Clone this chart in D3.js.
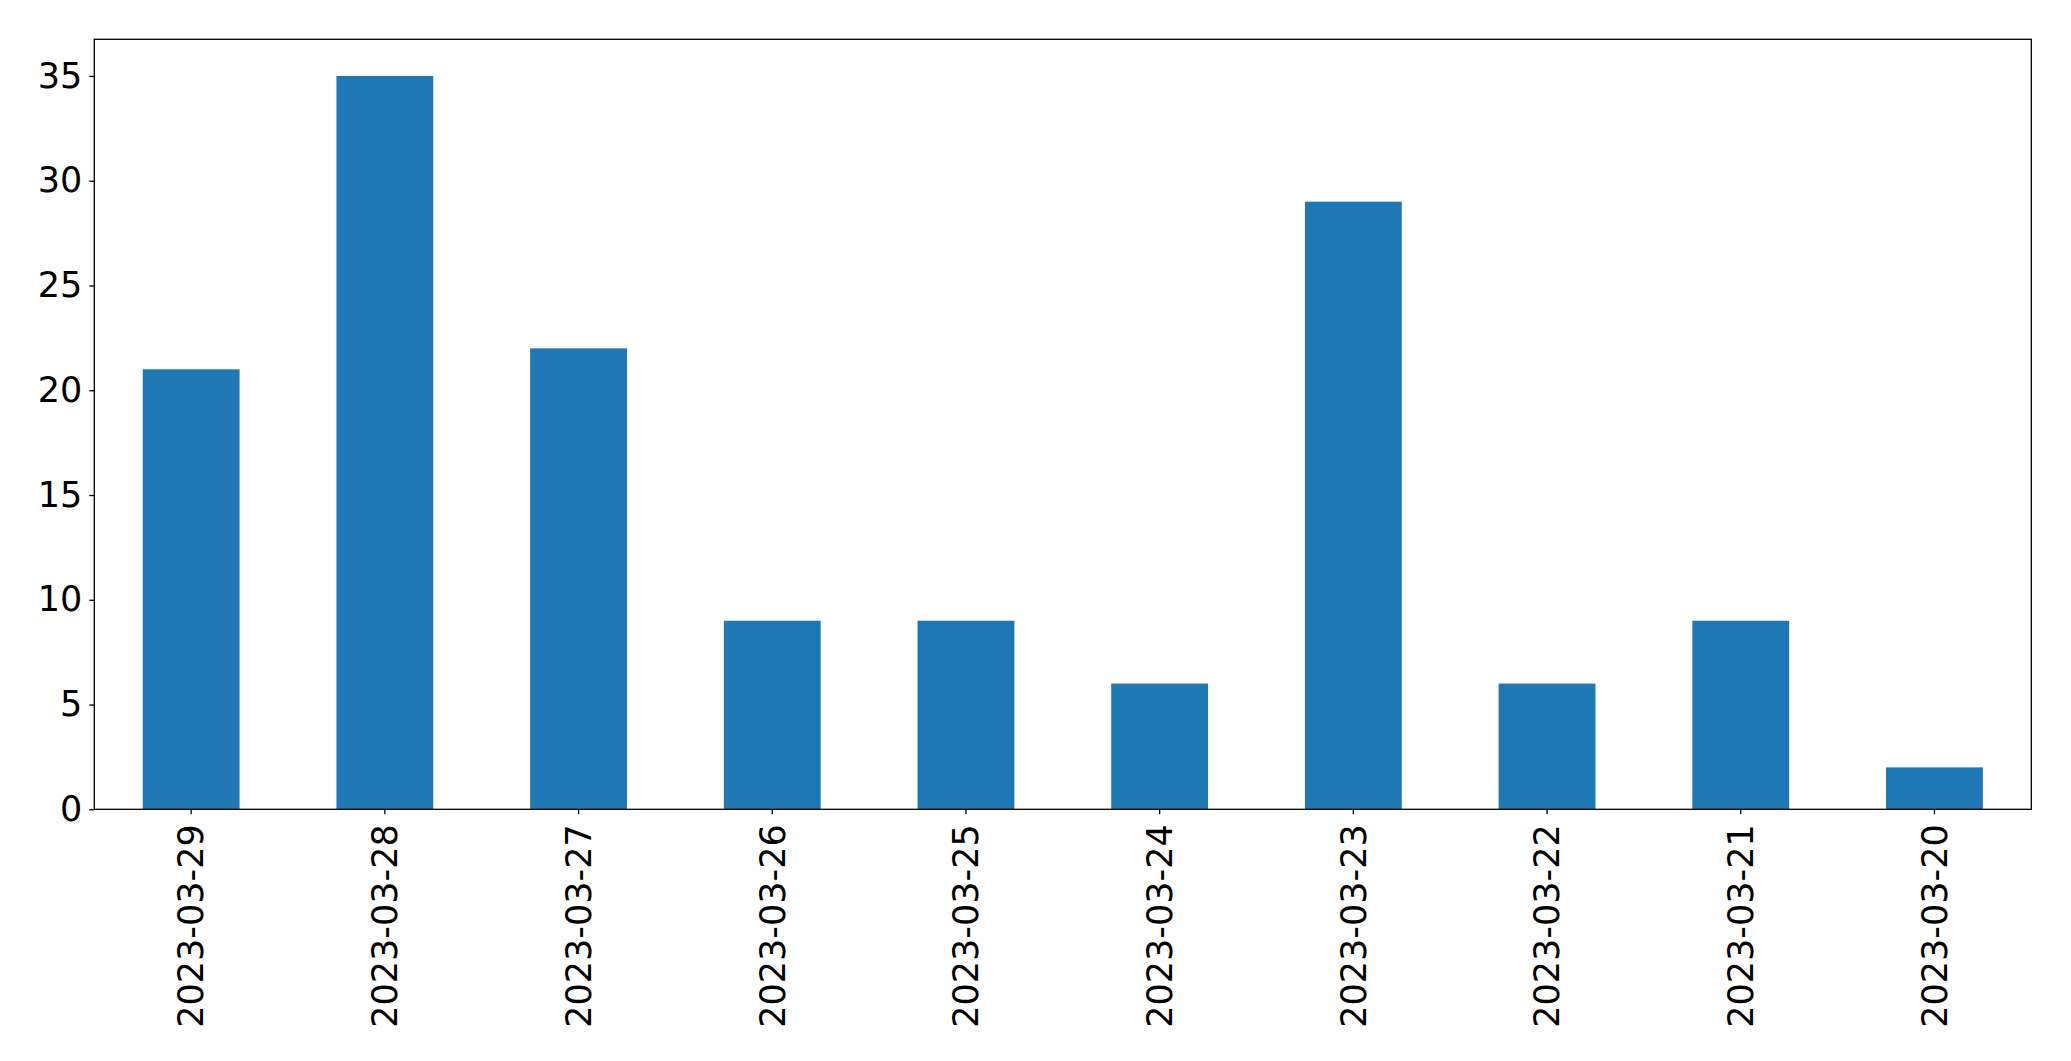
<!DOCTYPE html>
<html><head><meta charset="utf-8">
<script src="https://cdn.jsdelivr.net/npm/d3@7"></script>
<style>body{margin:0;background:#fff}svg{display:block}</style>
</head><body>
<script>
const categories = ["2023-03-29","2023-03-28","2023-03-27","2023-03-26","2023-03-25","2023-03-24","2023-03-23","2023-03-22","2023-03-21","2023-03-20"];
const values = [21,35,22,9,9,6,29,6,9,2];
const yTicks = [0,5,10,15,20,25,30,35];

const W = 2071, H = 1061;
const m = {left:94.3, right:2071-2031.3, top:39.3, bottom:1061-809.3};
const svg = d3.select("body").append("svg").attr("width",W).attr("height",H);
const x = d3.scaleBand().domain(categories).range([m.left, W-m.right]).paddingInner(0.5).paddingOuter(0.25);
const y = d3.scaleLinear().domain([0, d3.max(values)*1.05]).range([H-m.bottom, m.top]);

svg.append("g").selectAll("rect").data(values).join("rect")
  .attr("x",(d,i)=>x(categories[i])).attr("width",x.bandwidth())
  .attr("y",d=>y(d)).attr("height",d=>y(0)-y(d)).attr("fill","#1f77b4");

const font = "DejaVu Sans";
const fs = "35px";
const ya = svg.append("g").attr("transform",`translate(${m.left},0)`)
  .call(d3.axisLeft(y).tickValues(yTicks).tickSize(5).tickPadding(7).tickFormat(d3.format("d")));
const xa = svg.append("g").attr("transform",`translate(0,${H-m.bottom})`)
  .call(d3.axisBottom(x).tickSize(5).tickPadding(7));
[ya,xa].forEach(a=>{
  a.select(".domain").remove();
  a.selectAll("line").attr("stroke","#000").attr("stroke-width",1.3);
  a.selectAll("text").attr("font-family",font).attr("font-size",fs).attr("fill","#000");
});
xa.selectAll("text").attr("transform","rotate(-90)").attr("text-anchor","end")
  .attr("dy","0.35em").attr("y",0).attr("x",-15);

svg.append("rect").attr("x",m.left).attr("y",m.top)
  .attr("width",W-m.left-m.right).attr("height",H-m.top-m.bottom)
  .attr("fill","none").attr("stroke","#000").attr("stroke-width",1.3);
</script>
</body></html>
